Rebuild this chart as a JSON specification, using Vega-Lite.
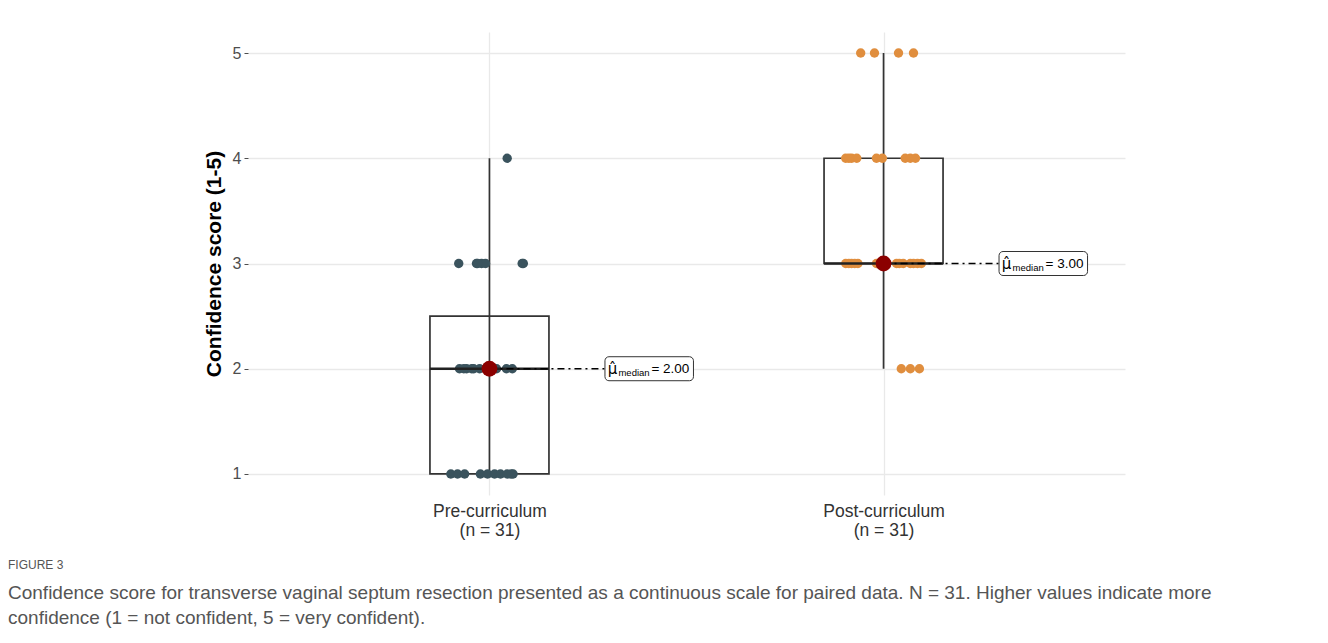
{
  "$schema": "https://vega.github.io/schema/vega-lite/v6.json",
  "autosize": "none",
  "width": 877,
  "height": 463,
  "padding": {"left": 248, "top": 32, "right": 203, "bottom": 148},
  "background": "white",
  "config": {
    "view": {"stroke": null},
    "font": "Liberation Sans",
    "axis": {"gridColor": "#e9e9e9", "gridWidth": 1.3, "domain": false}
  },
  "title": {
    "text": "FIGURE 3",
    "subtitle": ["Confidence score for transverse vaginal septum resection presented as a continuous scale for paired data. N = 31. Higher values indicate more", "confidence (1 = not confident, 5 = very confident)."],
    "orient": "bottom",
    "anchor": "start",
    "frame": "group",
    "dx": -240,
    "offset": 21,
    "font": "Liberation Sans",
    "fontSize": 12,
    "fontWeight": "normal",
    "color": "#555555",
    "subtitleFont": "Liberation Sans",
    "subtitleFontSize": 19,
    "subtitleColor": "#555555",
    "subtitleLineHeight": 25,
    "subtitlePadding": 12
  },
  "datasets": {
    "points": [
      {"cond": "Pre-curriculum", "x": 0.902, "score": 1},
      {"cond": "Pre-curriculum", "x": 0.919, "score": 1},
      {"cond": "Pre-curriculum", "x": 0.937, "score": 1},
      {"cond": "Pre-curriculum", "x": 0.977, "score": 1},
      {"cond": "Pre-curriculum", "x": 0.995, "score": 1},
      {"cond": "Pre-curriculum", "x": 1.013, "score": 1},
      {"cond": "Pre-curriculum", "x": 1.028, "score": 1},
      {"cond": "Pre-curriculum", "x": 1.045, "score": 1},
      {"cond": "Pre-curriculum", "x": 1.060, "score": 1},
      {"cond": "Pre-curriculum", "x": 1.055, "score": 1},
      {"cond": "Pre-curriculum", "x": 0.924, "score": 2},
      {"cond": "Pre-curriculum", "x": 0.942, "score": 2},
      {"cond": "Pre-curriculum", "x": 0.960, "score": 2},
      {"cond": "Pre-curriculum", "x": 0.975, "score": 2},
      {"cond": "Pre-curriculum", "x": 0.990, "score": 2},
      {"cond": "Pre-curriculum", "x": 1.000, "score": 2},
      {"cond": "Pre-curriculum", "x": 1.010, "score": 2},
      {"cond": "Pre-curriculum", "x": 1.018, "score": 2},
      {"cond": "Pre-curriculum", "x": 1.043, "score": 2},
      {"cond": "Pre-curriculum", "x": 1.058, "score": 2},
      {"cond": "Pre-curriculum", "x": 0.935, "score": 2},
      {"cond": "Pre-curriculum", "x": 0.955, "score": 2},
      {"cond": "Pre-curriculum", "x": 1.005, "score": 2},
      {"cond": "Pre-curriculum", "x": 0.922, "score": 3},
      {"cond": "Pre-curriculum", "x": 0.967, "score": 3},
      {"cond": "Pre-curriculum", "x": 0.980, "score": 3},
      {"cond": "Pre-curriculum", "x": 0.990, "score": 3},
      {"cond": "Pre-curriculum", "x": 1.086, "score": 3},
      {"cond": "Pre-curriculum", "x": 0.970, "score": 3},
      {"cond": "Pre-curriculum", "x": 1.083, "score": 3},
      {"cond": "Pre-curriculum", "x": 1.045, "score": 4},
      {"cond": "Post-curriculum", "x": 1.942, "score": 5},
      {"cond": "Post-curriculum", "x": 1.977, "score": 5},
      {"cond": "Post-curriculum", "x": 2.038, "score": 5},
      {"cond": "Post-curriculum", "x": 2.076, "score": 5},
      {"cond": "Post-curriculum", "x": 1.904, "score": 4},
      {"cond": "Post-curriculum", "x": 1.919, "score": 4},
      {"cond": "Post-curriculum", "x": 1.932, "score": 4},
      {"cond": "Post-curriculum", "x": 1.982, "score": 4},
      {"cond": "Post-curriculum", "x": 1.997, "score": 4},
      {"cond": "Post-curriculum", "x": 2.055, "score": 4},
      {"cond": "Post-curriculum", "x": 2.068, "score": 4},
      {"cond": "Post-curriculum", "x": 2.081, "score": 4},
      {"cond": "Post-curriculum", "x": 1.912, "score": 4},
      {"cond": "Post-curriculum", "x": 1.904, "score": 3},
      {"cond": "Post-curriculum", "x": 1.919, "score": 3},
      {"cond": "Post-curriculum", "x": 1.935, "score": 3},
      {"cond": "Post-curriculum", "x": 1.982, "score": 3},
      {"cond": "Post-curriculum", "x": 1.992, "score": 3},
      {"cond": "Post-curriculum", "x": 2.008, "score": 3},
      {"cond": "Post-curriculum", "x": 2.033, "score": 3},
      {"cond": "Post-curriculum", "x": 2.050, "score": 3},
      {"cond": "Post-curriculum", "x": 2.068, "score": 3},
      {"cond": "Post-curriculum", "x": 2.086, "score": 3},
      {"cond": "Post-curriculum", "x": 2.096, "score": 3},
      {"cond": "Post-curriculum", "x": 1.912, "score": 3},
      {"cond": "Post-curriculum", "x": 1.927, "score": 3},
      {"cond": "Post-curriculum", "x": 2.040, "score": 3},
      {"cond": "Post-curriculum", "x": 2.076, "score": 3},
      {"cond": "Post-curriculum", "x": 2.045, "score": 2},
      {"cond": "Post-curriculum", "x": 2.068, "score": 2},
      {"cond": "Post-curriculum", "x": 2.091, "score": 2}
    ],
    "summary": [
      {"cond": "Pre-curriculum", "group": 1, "lo": 1, "q1": 1, "median": 2, "q3": 2.5, "hi": 4, "label": "= 2.00"},
      {"cond": "Post-curriculum", "group": 2, "lo": 2, "q1": 3, "median": 3, "q3": 4, "hi": 5, "label": "= 3.00"}
    ]
  },
  "layer": [
    {
      "data": {"name": "summary"},
      "mark": {"type": "rule", "color": "#333333", "strokeWidth": 1.7},
      "encoding": {
        "x": {"field": "group", "type": "quantitative", "scale": {"domain": [0.4, 2.6], "nice": false},
          "axis": {"values": [1, 2], "title": null, "ticks": false, "labelPadding": 7, "labelFontSize": 17.5, "labelColor": "#333333", "labelLineHeight": 19,
            "labelExpr": "datum.value == 1 ? ['Pre-curriculum', '(n = 31)'] : ['Post-curriculum', '(n = 31)']"}},
        "y": {"field": "lo", "type": "quantitative", "scale": {"domain": [0.8, 5.2], "nice": false, "zero": false},
          "axis": {"values": [1, 2, 3, 4, 5], "format": "d", "title": "Confidence score (1-5)", "titleFontSize": 21, "titleFontWeight": "bold", "titleColor": "#000000", "titlePadding": 8,
            "tickSize": 4, "tickColor": "#4d4d4d", "labelFontSize": 16, "labelColor": "#4d4d4d", "labelPadding": 3}},
        "y2": {"field": "hi"}
      }
    },
    {
      "data": {"name": "summary"},
      "mark": {"type": "bar", "width": 119, "fill": "white", "fillOpacity": 0, "stroke": "#333333", "strokeWidth": 1.7, "orient": "vertical"},
      "encoding": {
        "x": {"field": "group", "type": "quantitative"},
        "y": {"field": "q1", "type": "quantitative"},
        "y2": {"field": "q3"}
      }
    },
    {
      "data": {"name": "points"},
      "mark": {"type": "circle", "size": 88, "opacity": 1},
      "encoding": {
        "x": {"field": "x", "type": "quantitative"},
        "y": {"field": "score", "type": "quantitative"},
        "color": {"field": "cond", "type": "nominal", "scale": {"domain": ["Pre-curriculum", "Post-curriculum"], "range": ["#3a535d", "#e08e3e"]}, "legend": null}
      }
    },
    {
      "data": {"name": "summary"},
      "mark": {"type": "rule", "color": "#222222", "strokeWidth": 2.7, "xOffset": -59.5, "x2Offset": 59.5},
      "encoding": {
        "x": {"field": "group", "type": "quantitative"},
        "x2": {"field": "group"},
        "y": {"field": "median", "type": "quantitative"}
      }
    },
    {
      "data": {"name": "summary"},
      "mark": {"type": "rule", "color": "#000000", "strokeWidth": 1.5, "strokeDash": [7, 4, 2, 4], "x2Offset": 116},
      "encoding": {
        "x": {"field": "group", "type": "quantitative"},
        "x2": {"field": "group"},
        "y": {"field": "median", "type": "quantitative"}
      }
    },
    {
      "data": {"name": "summary"},
      "mark": {"type": "circle", "size": 250, "color": "#8b0000", "opacity": 1},
      "encoding": {
        "x": {"field": "group", "type": "quantitative"},
        "y": {"field": "median", "type": "quantitative"}
      }
    },
    {
      "data": {"name": "summary"},
      "mark": {"type": "rect", "fill": "white", "stroke": "#333333", "strokeWidth": 1, "cornerRadius": 4, "xOffset": 115.5, "x2Offset": 204, "yOffset": -12, "y2Offset": 12},
      "encoding": {
        "x": {"field": "group", "type": "quantitative"},
        "x2": {"field": "group"},
        "y": {"field": "median", "type": "quantitative"},
        "y2": {"field": "median"}
      }
    },
    {
      "data": {"name": "summary"},
      "mark": {"type": "text", "text": "μ̂", "font": "DejaVu Sans", "fontSize": 15, "align": "center", "baseline": "middle", "dx": 123, "dy": 0, "color": "#000000"},
      "encoding": {
        "x": {"field": "group", "type": "quantitative"},
        "y": {"field": "median", "type": "quantitative"}
      }
    },
    {
      "data": {"name": "summary"},
      "mark": {"type": "text", "text": "median", "fontSize": 9.5, "align": "left", "baseline": "middle", "dx": 129, "dy": 4, "color": "#000000"},
      "encoding": {
        "x": {"field": "group", "type": "quantitative"},
        "y": {"field": "median", "type": "quantitative"}
      }
    },
    {
      "data": {"name": "summary"},
      "mark": {"type": "text", "fontSize": 13.5, "align": "left", "baseline": "middle", "dx": 162, "dy": 0, "color": "#000000"},
      "encoding": {
        "x": {"field": "group", "type": "quantitative"},
        "y": {"field": "median", "type": "quantitative"},
        "text": {"field": "label"}
      }
    }
  ]
}
